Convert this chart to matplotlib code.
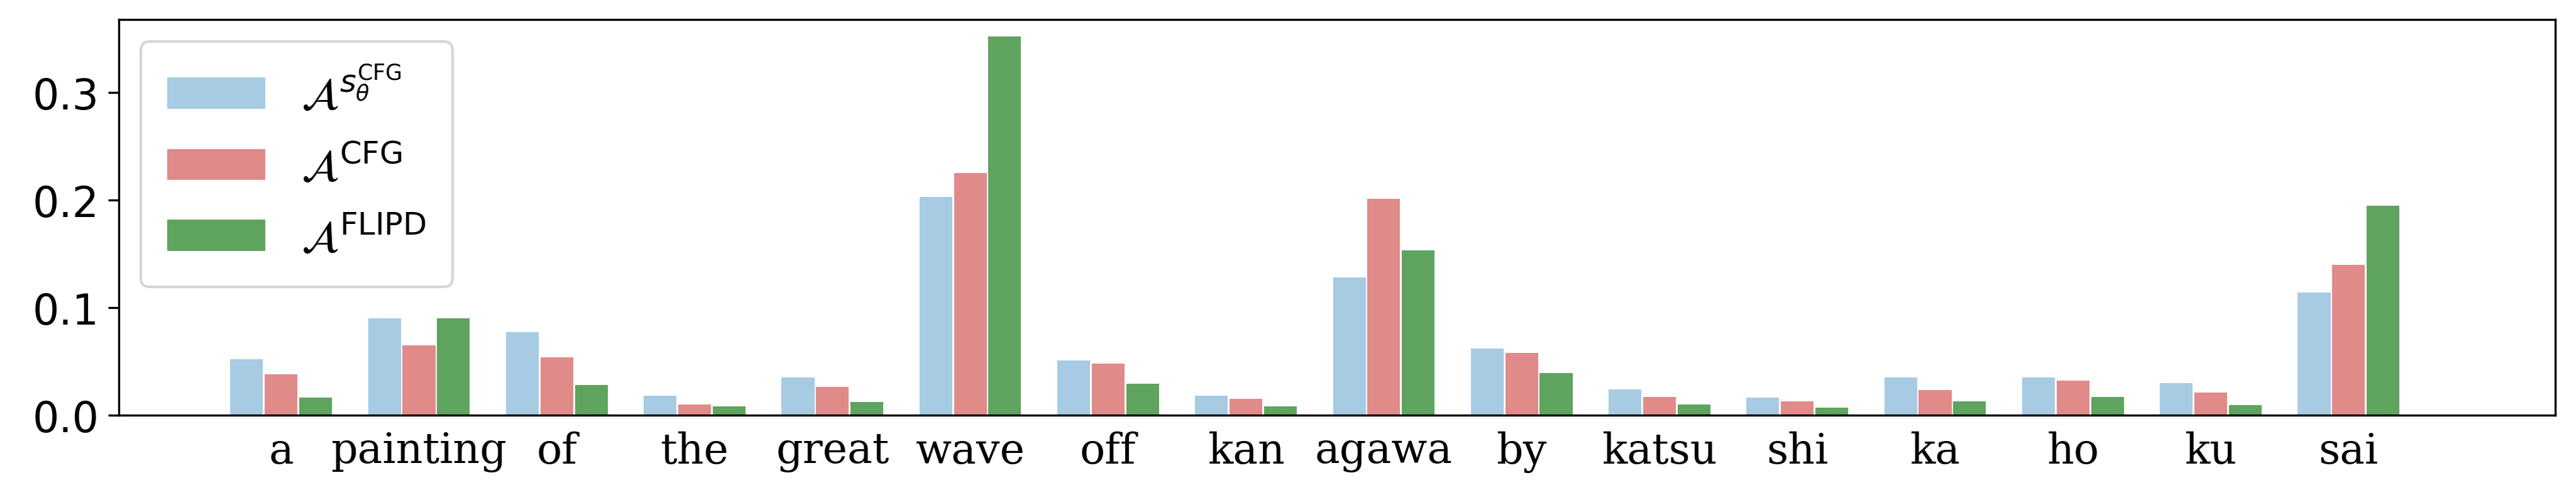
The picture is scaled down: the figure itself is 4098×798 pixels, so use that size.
import matplotlib
matplotlib.use("Agg")
import matplotlib.pyplot as plt
import numpy as np

tokens = ["a","painting","of","the","great","wave","off","kan","agawa","by","katsu","shi","ka","ho","ku","sai"]
a_s = [0.052,0.090,0.077,0.018,0.035,0.203,0.051,0.018,0.128,0.062,0.024,0.016,0.035,0.035,0.030,0.114]
a_cfg = [0.038,0.065,0.054,0.010,0.026,0.225,0.048,0.015,0.201,0.058,0.017,0.013,0.023,0.032,0.021,0.140]
a_flipd = [0.016,0.090,0.028,0.008,0.012,0.352,0.029,0.008,0.153,0.039,0.010,0.007,0.013,0.017,0.009,0.195]

fig = plt.figure(figsize=(13.66, 2.663), dpi=300)
ax = fig.add_axes([0.046, 0.173, 0.946, 0.787])
x = np.arange(len(tokens))
w = 0.25
ax.bar(x - w, a_s, w*0.95, color="#a6cbe3", label=r"$\mathcal{A}^{s_\theta^{\mathsf{CFG}}}$")
ax.bar(x, a_cfg, w*0.95, color="#e08a8a", label=r"$\mathcal{A}^{\mathsf{CFG}}$")
ax.bar(x + w, a_flipd, w*0.95, color="#5ea35e", label=r"$\mathcal{A}^{\mathsf{FLIPD}}$")
ax.set_xlim(-1.18, 16.5)
ax.set_ylim(0, 0.368)
ax.set_xticks(x)
ax.set_xticklabels(tokens, family="DejaVu Serif", fontsize=16)
ax.set_yticks([0, 0.1, 0.2, 0.3])
ax.set_yticklabels(["0.0","0.1","0.2","0.3"], fontsize=16)
ax.tick_params(axis="x", length=0, pad=6)
ax.tick_params(axis="y", length=4)
ax.legend(loc="upper left", fontsize=17, handlelength=2.2, borderpad=0.6, labelspacing=0.6)
fig.savefig("out.png", dpi=300)
